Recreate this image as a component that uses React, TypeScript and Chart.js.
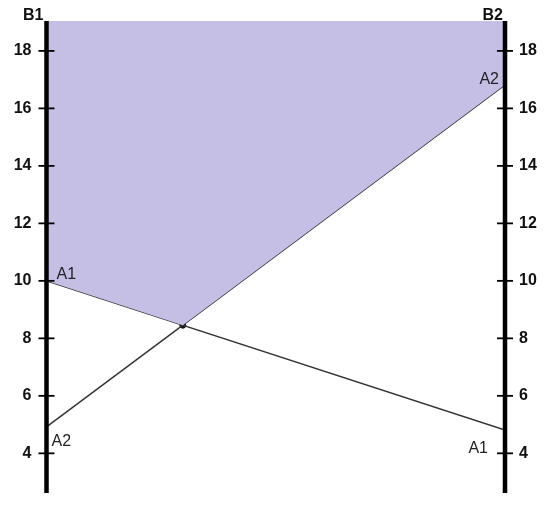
import React, { useEffect, useRef } from 'react';
import { Chart, registerables } from 'chart.js';
Chart.register(...registerables);

const positions = [0, 1];
const lineA1 = [10, 4.81];
const lineA2 = [4.92, 16.82];
const yTicks = [4, 6, 8, 10, 12, 14, 16, 18];
const axisNames = ['B1', 'B2'];
const pointNames = ['A1', 'A2'];
const yMin = 2.62;
const yMax = 19.04;

const FONT = 'Arial, "Liberation Sans", sans-serif';

export default function App() {
  const ref = useRef<HTMLCanvasElement | null>(null);
  useEffect(() => {
    document.body.style.margin = '0';
    const canvas = ref.current;
    if (!canvas) return;
    // intersection of the two lines
    const d1 = lineA1[1] - lineA1[0];
    const d2 = lineA2[1] - lineA2[0];
    const t = (lineA1[0] - lineA2[0]) / (d2 - d1);
    const xi = positions[0] + t * (positions[1] - positions[0]);
    const yi = lineA1[0] + t * d1;
    const upper = [
      { x: positions[0], y: Math.max(lineA1[0], lineA2[0]) },
      { x: xi, y: yi },
      { x: positions[1], y: Math.max(lineA1[1], lineA2[1]) },
    ];

    const overlay = {
      id: 'overlay',
      afterDatasetsDraw(chart: any) {
        const ctx = chart.ctx;
        const ys = chart.scales.y;
        const xs = chart.scales.x;
        const lx = xs.getPixelForValue(positions[0]);
        const rx = xs.getPixelForValue(positions[1]);
        ctx.save();
        // axis lines
        ctx.strokeStyle = '#000';
        ctx.lineWidth = 4.5;
        [lx, rx].forEach((ax) => {
          ctx.beginPath();
          ctx.moveTo(ax, ys.top);
          ctx.lineTo(ax, ys.bottom);
          ctx.stroke();
        });
        // tick crosses
        ctx.lineWidth = 1.8;
        yTicks.forEach((v) => {
          const py = ys.getPixelForValue(v);
          [lx, rx].forEach((ax) => {
            ctx.beginPath();
            ctx.moveTo(ax - 8, py);
            ctx.lineTo(ax + 8, py);
            ctx.stroke();
          });
        });
        // axis names
        ctx.fillStyle = '#111';
        ctx.font = 'bold 16px ' + FONT;
        ctx.textAlign = 'right';
        ctx.textBaseline = 'alphabetic';
        ctx.fillText(axisNames[0], lx - 3, ys.top - 1);
        ctx.fillText(axisNames[1], rx - 2, ys.top - 1);
        // point names
        ctx.font = '16px ' + FONT;
        ctx.fillStyle = '#222';
        ctx.textAlign = 'left';
        ctx.fillText(pointNames[0], lx + 10, ys.getPixelForValue(lineA1[0]) - 2);
        ctx.fillText(pointNames[1], lx + 5, ys.getPixelForValue(lineA2[0]) + 19);
        ctx.textAlign = 'right';
        ctx.fillText(pointNames[1], rx - 6, ys.getPixelForValue(lineA2[1]) - 1);
        ctx.fillText(pointNames[0], rx - 17, ys.getPixelForValue(lineA1[1]) + 23);
        ctx.restore();
      },
    };

    const yCommon = {
      type: 'linear' as const,
      min: yMin,
      max: yMax,
      grid: { display: false, drawTicks: false, tickLength: 0 },
      border: { display: false },
      afterBuildTicks: (s: any) => {
        s.ticks = yTicks.map((v) => ({ value: v }));
      },
    };

    const chart = new Chart(canvas, {
      type: 'line',
      data: {
        datasets: [
          {
            label: 'region',
            data: upper,
            fill: 'end',
            backgroundColor: 'rgb(197,191,230)',
            borderWidth: 0,
            pointRadius: 0,
            tension: 0,
          },
          {
            label: pointNames[0],
            data: positions.map((x, i) => ({ x, y: lineA1[i] })),
            borderColor: '#333',
            borderWidth: 1.5,
            pointRadius: 0,
            fill: false,
          },
          {
            label: pointNames[1],
            data: positions.map((x, i) => ({ x, y: lineA2[i] })),
            borderColor: '#333',
            borderWidth: 1.5,
            pointRadius: 0,
            fill: false,
          },
          {
            label: 'cross',
            data: [{ x: xi, y: yi }],
            showLine: false,
            pointRadius: 3,
            pointBackgroundColor: '#111',
            pointBorderColor: '#111',
          },
        ],
      },
      options: {
        responsive: false,
        animation: false,
        layout: { padding: { left: 8, right: 5, top: 21, bottom: 14 } },
        plugins: { legend: { display: false }, tooltip: { enabled: false } },
        scales: {
          x: { type: 'linear', min: 0, max: 1, display: false },
          y: {
            ...yCommon,
            position: 'left',
            ticks: { color: '#111', font: { family: FONT, size: 16, weight: 'bold' }, padding: 15 },
            afterFit: (s: any) => {
              s.width = 38.5;
              s.paddingTop = 0;
              s.paddingBottom = 0;
            },
          },
          y2: {
            ...yCommon,
            position: 'right',
            ticks: { color: '#111', font: { family: FONT, size: 16, weight: 'bold' }, padding: 14 },
            afterFit: (s: any) => {
              s.width = 40;
              s.paddingTop = 0;
              s.paddingBottom = 0;
            },
          },
        },
      } as any,
      plugins: [overlay],
    });
    return () => chart.destroy();
  }, []);
  return (
    <div style={{ width: 550, height: 507 }}>
      <canvas ref={ref} width={550} height={507} />
    </div>
  );
}
